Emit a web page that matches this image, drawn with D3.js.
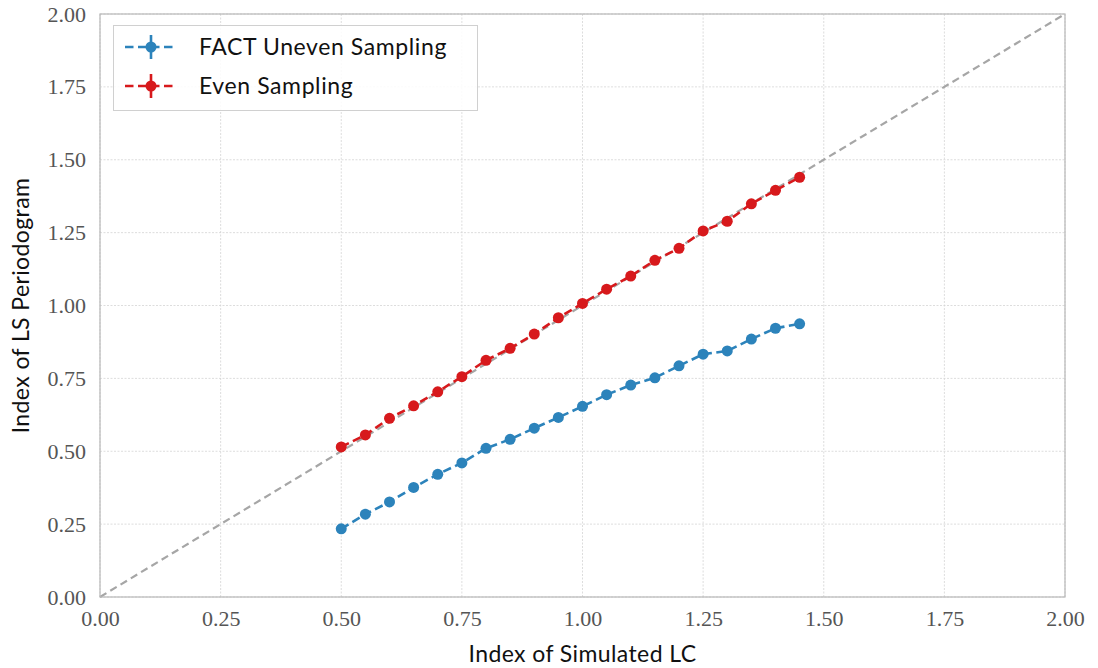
<!DOCTYPE html>
<html>
<head>
<meta charset="utf-8">
<script src="https://cdn.jsdelivr.net/npm/d3@7"></script>
<style>
body { margin: 0; background: #fff; }
</style>
</head>
<body>
<script>
// data
var indexSim = [0.50,0.55,0.60,0.65,0.70,0.75,0.80,0.85,0.90,0.95,1.00,1.05,1.10,1.15,1.20,1.25,1.30,1.35,1.40,1.45];
var unevenIdx = [0.234,0.284,0.326,0.376,0.421,0.460,0.510,0.541,0.579,0.616,0.654,0.694,0.727,0.752,0.793,0.833,0.844,0.885,0.922,0.937];
var evenIdx = [0.515,0.556,0.613,0.656,0.704,0.756,0.812,0.853,0.902,0.958,1.007,1.056,1.101,1.155,1.196,1.256,1.289,1.349,1.395,1.440];
var ticks = [0,0.25,0.5,0.75,1,1.25,1.5,1.75,2];
var seriesNames = ["FACT Uneven Sampling","Even Sampling"];
var seriesColors = ["#2c83bb","#d7191c"];

var W = 1098, H = 668;
var margin = {left:100, right:33, top:14, bottom:71};
var sans = "Lato, 'DejaVu Sans', sans-serif";

var svg = d3.select("body").append("svg").attr("width",W).attr("height",H);

var x = d3.scaleLinear().domain([0,2]).range([margin.left, W - margin.right]);
var y = d3.scaleLinear().domain([0,2]).range([H - margin.bottom, margin.top]);

// grid
svg.append("g").selectAll("line").data(ticks).enter().append("line")
  .attr("x1",function(d){return x(d);}).attr("x2",function(d){return x(d);})
  .attr("y1",y(0)).attr("y2",y(2))
  .attr("stroke","#d4d4d4").attr("stroke-width",0.8).attr("stroke-dasharray","2,1.5");
svg.append("g").selectAll("line").data(ticks).enter().append("line")
  .attr("y1",function(d){return y(d);}).attr("y2",function(d){return y(d);})
  .attr("x1",x(0)).attr("x2",x(2))
  .attr("stroke","#d4d4d4").attr("stroke-width",0.8).attr("stroke-dasharray","2,1.5");

// axes
var xAxis = d3.axisBottom(x).tickValues(ticks).tickFormat(d3.format(".2f")).tickSize(0).tickPadding(13);
var yAxis = d3.axisLeft(y).tickValues(ticks).tickFormat(d3.format(".2f")).tickSize(0).tickPadding(14);
var gx = svg.append("g").attr("transform","translate(0,"+y(0)+")").call(xAxis);
var gy = svg.append("g").attr("transform","translate("+x(0)+",0)").call(yAxis);
[gx,gy].forEach(function(g){
  g.select(".domain").remove();
  g.selectAll("text").attr("font-family","'Liberation Serif', 'DejaVu Serif', serif")
    .attr("font-size","22px").attr("fill","#555");
});

// diagonal
svg.append("line")
  .attr("x1",x(0)).attr("y1",y(0)).attr("x2",x(2)).attr("y2",y(2))
  .attr("stroke","#a6a6a6").attr("stroke-width",2.2).attr("stroke-dasharray","7.5,4.5");

// series
var series = [unevenIdx, evenIdx];
var line = d3.line().x(function(d){return x(d[0]);}).y(function(d){return y(d[1]);});
series.forEach(function(vals,k){
  var pts = indexSim.map(function(v,i){return [v, vals[i]];});
  svg.append("path").datum(pts).attr("d",line)
    .attr("fill","none").attr("stroke",seriesColors[k]).attr("stroke-width",2.6)
    .attr("stroke-dasharray","8.5,4.5");
  svg.append("g").selectAll("circle").data(pts).enter().append("circle")
    .attr("cx",function(d){return x(d[0]);})
    .attr("cy",function(d){return y(d[1]);})
    .attr("r",5.5).attr("fill",seriesColors[k]);
});

// frame
svg.append("rect").attr("x",x(0)).attr("y",y(2))
  .attr("width",x(2)-x(0)).attr("height",y(0)-y(2))
  .attr("fill","none").attr("stroke","#b8b8b8").attr("stroke-width",1.2);

// legend
var lg = svg.append("g");
lg.append("rect").attr("x",113.5).attr("y",25.5).attr("width",364).attr("height",85)
  .attr("fill","#fff").attr("fill-opacity",0.85).attr("stroke","#d0d0d0").attr("stroke-width",1);
seriesNames.forEach(function(name,k){
  var cy = 47 + k*39;
  var row = lg.append("g");
  row.append("line").attr("x1",125).attr("x2",177).attr("y1",cy).attr("y2",cy)
    .attr("stroke",seriesColors[k]).attr("stroke-width",2.6).attr("stroke-dasharray","8.5,4.5");
  row.append("line").attr("x1",151).attr("x2",151).attr("y1",cy-12).attr("y2",cy+12)
    .attr("stroke",seriesColors[k]).attr("stroke-width",2.6);
  row.append("circle").attr("cx",151).attr("cy",cy).attr("r",5.5).attr("fill",seriesColors[k]);
  row.append("text").attr("x",199).attr("y",cy+8).text(name)
    .attr("font-family",sans).attr("font-size","23px").attr("letter-spacing","0.6px").attr("fill","#111");
});

// axis titles
svg.append("text").attr("x",(x(0)+x(2))/2).attr("y",662).attr("text-anchor","middle")
  .text("Index of Simulated LC").attr("letter-spacing","0.4px")
  .attr("font-family",sans).attr("font-size","23px").attr("fill","#111");
svg.append("text").attr("transform","translate(29,"+((y(0)+y(2))/2)+") rotate(-90)")
  .attr("text-anchor","middle").text("Index of LS Periodogram").attr("letter-spacing","0.4px")
  .attr("font-family",sans).attr("font-size","23px").attr("fill","#111");
</script>
</body>
</html>
